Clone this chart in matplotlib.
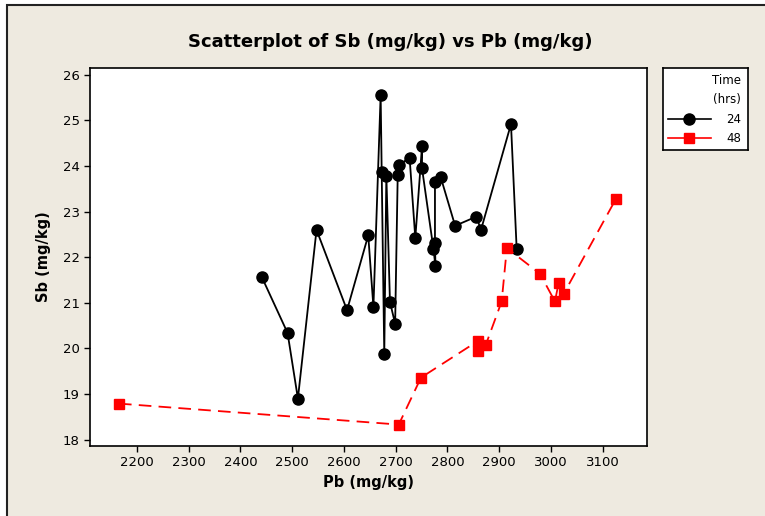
import numpy as np
import matplotlib.pyplot as plt
from matplotlib.patches import Rectangle

# Pb / Sb (mg/kg), in plotting order
pb_24 = [2441, 2491, 2511, 2547, 2606, 2647, 2657, 2671, 2673, 2678,
         2682, 2689, 2699, 2704, 2707, 2727, 2738, 2751, 2751, 2773,
         2777, 2776, 2776, 2787, 2815, 2856, 2865, 2923, 2934]
sb_24 = [21.57, 20.34, 18.90, 22.60, 20.84, 22.48, 20.91, 25.56, 23.88, 19.88,
         23.79, 21.02, 20.54, 23.81, 24.03, 24.18, 22.42, 24.44, 23.95, 22.19,
         21.80, 22.31, 23.65, 23.76, 22.69, 22.89, 22.60, 24.92, 22.18]

pb_48 = [2165, 2706, 2749, 2860, 2860, 2874, 2905, 2915, 2979, 3008, 3015, 3025, 3126]
sb_48 = [18.79, 18.33, 19.36, 20.17, 19.94, 20.07, 21.03, 22.20, 21.64, 21.03, 21.43, 21.20, 23.28]

x_ticks = np.arange(2200, 3101, 100)
y_ticks = np.arange(18, 27, 1)

bg = '#EEEAE0'
plt.rcParams['font.family'] = 'DejaVu Sans'

fig = plt.figure(figsize=(7.65, 5.16), dpi=100, facecolor='white')
# beige panel with dark frame (top-left corner visible)
fig.patches.append(Rectangle((7 / 765, -0.01), 1, 1.01 - 5 / 516, transform=fig.transFigure,
                             facecolor=bg, edgecolor='#222222', linewidth=1.5, zorder=-10))

ax = fig.add_axes([90 / 765, 70 / 516, 557 / 765, 378 / 516])
ax.set_facecolor('white')

ax.plot(pb_24, sb_24, color='black', linewidth=1.3, marker='o', markersize=8,
        markerfacecolor='black', markeredgecolor='black', label='24')
ax.plot(pb_48, sb_48, color='red', linewidth=1.3, linestyle=(0, (7, 4)), marker='s',
        markersize=7, markerfacecolor='red', markeredgecolor='red', label='48')

ax.set_xlim(2109, 3186)
ax.set_ylim(17.86, 26.15)
ax.set_xticks(x_ticks)
ax.set_yticks(y_ticks)
ax.tick_params(direction='out', length=4, width=1, labelsize=9.5, colors='black')
for s in ax.spines.values():
    s.set_linewidth(1.2)

ax.set_xlabel('Pb (mg/kg)', fontsize=10.5, fontweight='bold', labelpad=4)
ax.set_ylabel('Sb (mg/kg)', fontsize=10.5, fontweight='bold', labelpad=8)
fig.text(390 / 765, 1 - 42 / 516, 'Scatterplot of Sb (mg/kg) vs Pb (mg/kg)', ha='center', va='center',
         fontsize=13, fontweight='bold')

# legend box on the right
lax = fig.add_axes([663 / 765, 1 - 150 / 516, 85 / 765, 82 / 516])
lax.set_xlim(0, 85)
lax.set_ylim(82, 0)
lax.set_xticks([])
lax.set_yticks([])
lax.set_facecolor('white')
for s in lax.spines.values():
    s.set_linewidth(1.2)
lax.text(78, 12, 'Time', ha='right', va='center', fontsize=8.5)
lax.text(78, 31, '(hrs)', ha='right', va='center', fontsize=8.5)
for line, yy in zip(ax.get_lines(), [51, 70]):
    lax.plot([5, 48], [yy, yy], color=line.get_color(), linewidth=1.2)
    lax.plot([26], [yy], marker=line.get_marker(), markersize=line.get_markersize(),
             color=line.get_color())
    lax.text(78, yy, line.get_label(), ha='right', va='center', fontsize=8.5)

fig.savefig('out.png', dpi=100, facecolor=fig.get_facecolor())
